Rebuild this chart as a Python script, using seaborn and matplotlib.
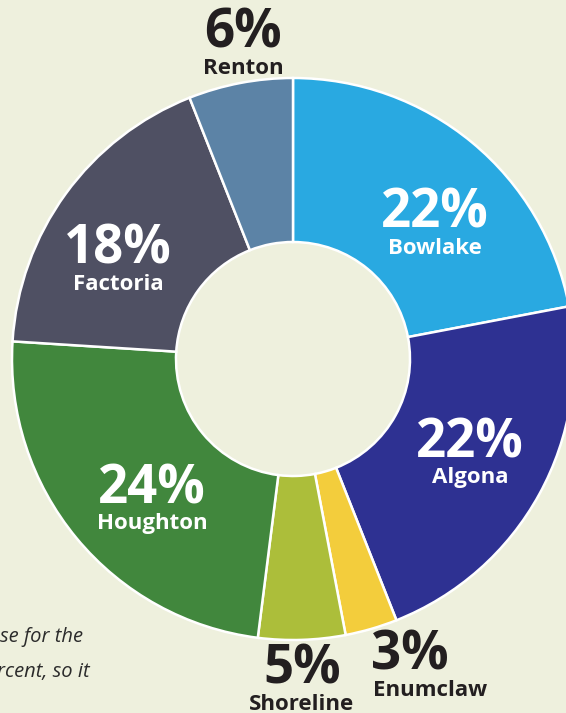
import matplotlib
matplotlib.use('Agg')
import matplotlib.pyplot as plt
import seaborn as sns

sns.set_theme(style='white')
plt.rcParams['font.family'] = ['Open Sans', 'DejaVu Sans']

# data, clockwise from 12 o'clock
sites = ['Bowlake', 'Algona', 'Enumclaw', 'Shoreline', 'Houghton', 'Factoria', 'Renton']
shares = [22, 22, 3, 5, 24, 18, 6]
colors = ['#29a9e1', '#2e3192', '#f3cd3c', '#acbe3a', '#41873d', '#4f5063', '#5c83a6']

# label anchor points (pixels) and text colour
label_pos = {
    'Bowlake': (435, 213, 'white'),
    'Algona': (470, 443, 'white'),
    'Enumclaw': (410, 655, '#231f20'),
    'Shoreline': (302, 669, '#231f20'),
    'Houghton': (152, 489, 'white'),
    'Factoria': (118, 249, 'white'),
    'Renton': (243, 33, '#231f20'),
}

bg = '#eef0dd'
W, H = 566, 713
fig = plt.figure(figsize=(W / 100, H / 100), dpi=100)
fig.patch.set_facecolor(bg)
ax = fig.add_axes([0, 0, 1, 1])
ax.set_facecolor(bg)

cx, cy, R, r_in = 293, H - 359, 281, 117
ax.pie(shares, colors=colors, startangle=90, counterclock=False,
       center=(cx, cy), radius=R,
       wedgeprops=dict(width=R - r_in, edgecolor='white', linewidth=1.8))
ax.set_xlim(0, W)
ax.set_ylim(0, H)
ax.set_aspect('auto')
ax.axis('off')

for s, v in zip(sites, shares):
    x, y, c = label_pos[s]
    yy = H - y
    ax.text(x, yy, f'{v}%', ha='center', va='center', color=c,
            fontsize=38, fontweight='bold')
    dx = 20 if s == 'Enumclaw' else 0
    ax.text(x + dx, yy - 35, s, ha='center', va='center', color=c,
            fontsize=16, fontweight='bold')

# cut-off note text at bottom left
ax.text(83, H - 637, 'se for the', ha='right', va='center', color='#2b2b2b',
        fontsize=14.5, style='italic')
ax.text(90, H - 672, 'rcent, so it', ha='right', va='center', color='#2b2b2b',
        fontsize=14.5, style='italic')

fig.savefig('out.png', dpi=100, facecolor=bg)
